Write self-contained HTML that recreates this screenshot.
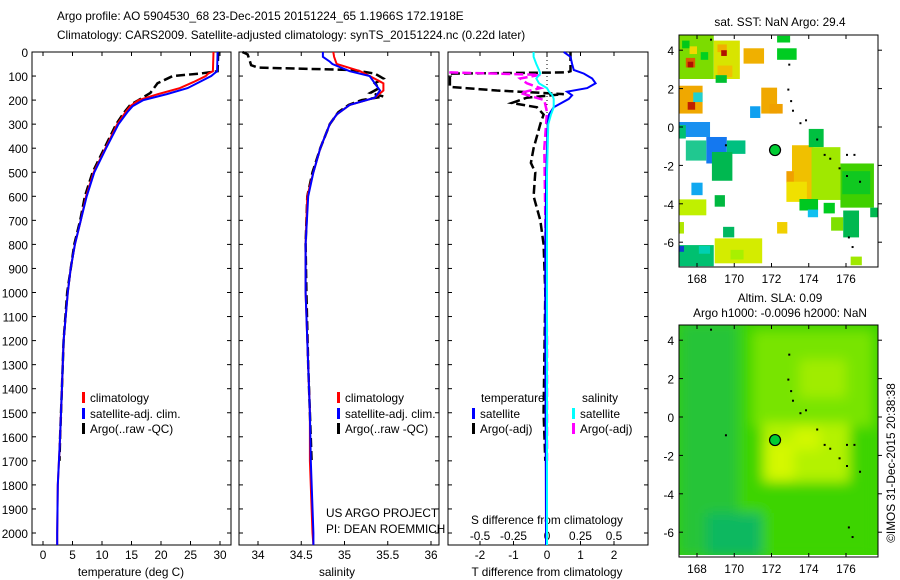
<!DOCTYPE html>
<html><head><meta charset="utf-8">
<style>
html,body{margin:0;padding:0;background:#fff;}
svg{display:block;font-family:"Liberation Sans",sans-serif;}
text{font-size:11.8px;fill:#000;}
</style></head>
<body>
<svg id="fig" width="900" height="580" viewBox="0 0 900 580" xmlns="http://www.w3.org/2000/svg">
<defs>
<filter id="blur" x="-20%" y="-20%" width="140%" height="140%"><feGaussianBlur stdDeviation="6"/></filter>
<clipPath id="m1clip"><rect x="679" y="35" width="199" height="232"/></clipPath>
<clipPath id="m2clip"><rect x="679" y="325" width="199" height="230"/></clipPath>
</defs>
<text x="57" y="20">Argo profile: AO 5904530_68 23-Dec-2015 20151224_65 1.1966S 172.1918E</text>
<text x="57" y="39">Climatology: CARS2009. Satellite-adjusted climatology: synTS_20151224.nc (0.22d later)</text>
<g id="g"></g>
</svg>
<script>
// ---- depth-profile data ----
const tDepth = [0,80,90,100,125,150,175,200,225,250,300,400,500,600,700,800,900,1000,1200,1400,1600,1800,2000,2050];
const tClim  = [28.9,28.8,28,27.6,25.5,23.2,19.5,16.2,14.8,14,12.6,10.6,8.6,7.3,6.4,5.4,4.7,4.2,3.5,3.2,2.9,2.5,2.4,2.4];
const tSat   = [29.6,29.5,29,28.5,26.5,24.5,21,17,15.2,14.3,12.8,10.7,8.7,7.4,6.4,5.4,4.7,4.2,3.5,3.2,2.9,2.5,2.4,2.4];
const tArgoDepth = [0,80,90,100,130,170,200,220,250,300,400,500,600,700,800,1000,1200,1400,1600,1700];
const tArgo  = [29.7,29.6,26.6,22,19.4,18.2,16.2,14.8,13.8,12.4,10.4,8.4,7.1,6.3,5.3,4.1,3.5,3.2,2.9,2.8];
const sDepth = [0,20,40,50,80,100,130,160,190,220,260,300,400,500,600,800,1000,1200,1500,1700,2000,2050];
const sClim  = [34.87,34.88,34.9,34.91,35.18,35.29,35.45,35.45,35.35,35.06,34.91,34.83,34.72,34.64,34.57,34.55,34.55,34.57,34.6,34.6,34.63,34.64];
const sSat   = [34.75,34.75,34.83,34.86,35.06,35.29,35.35,35.41,35.35,35.06,34.91,34.83,34.72,34.64,34.58,34.55,34.55,34.57,34.6,34.61,34.64,34.64];
const sArgoDepth = [0,10,30,55,65,75,90,110,130,150,170,185,200,220,250,300,400,500,600,800,1000,1300,1500,1700];
const sArgo  = [33.82,33.88,33.9,33.92,34.0,35.1,35.35,35.45,35.35,35.4,35.3,35.45,35.2,35.05,34.93,34.83,34.72,34.63,34.57,34.55,34.56,34.58,34.6,34.62];
// differences
const dDepth = [0,20,50,75,90,110,130,150,165,180,195,230,260,300,500,800,1200,1600,2000,2050];
const dTSat  = [0.5,0.7,0.75,0.8,1.1,1.35,1.45,1.2,0.6,0.75,0.65,0.2,0.06,0.02,-0.02,-0.05,-0.05,-0.04,-0.03,-0.03];
const dSSat  = [-0.1,-0.1,-0.08,-0.06,-0.05,-0.08,-0.06,0.0,0.015,0.04,0.05,0.05,0.03,0.01,0.0,0.0,0.0,0.0,0.0,0.0];
const dTArgoDepth = [0,80,85,90,145,160,175,190,212,230,260,300,400,461,500,600,700,800,1000,1500,1700];
const dTArgo = [0.7,0.7,0.6,-2.9,-2.9,-1.5,0.5,-0.6,-1.05,-0.3,-0.1,-0.2,-0.4,-0.48,-0.35,-0.4,-0.2,-0.1,-0.05,-0.1,-0.05];
const dSArgoDepth = [80,85,95,110,130,150,170,200,250,400,800,1200,1700];
const dSArgo = [-0.72,-0.72,-0.05,-0.2,-0.15,-0.05,-0.2,-0.02,0.0,-0.02,-0.01,0.0,0.0];
const tTicks = [0,5,10,15,20,25,30];
const sTicks = [34,34.5,35,35.5,36];
const dTTicks = [-2,-1,0,1,2];
const dSTicks = [-0.5,-0.25,0,0.25,0.5];
const depthTicks = [0,100,200,300,400,500,600,700,800,900,1000,1100,1200,1300,1400,1500,1600,1700,1800,1900,2000];
// ---- map data: [lon0, lat0, lon1, lat1, colour]
const sstBlocks = [
[167.05,4.8,168.9,2.5,'#7cdc00'],[167.2,4.5,167.6,4.1,'#00c818'],[167.6,4.2,168.0,3.8,'#f0d800'],[167.4,3.6,167.9,3.1,'#d86000'],[167.5,3.4,167.8,3.1,'#b01000'],
[168.2,3.9,168.6,3.5,'#00d020'],[168.9,4.5,170.3,2.5,'#d8e400'],[169.1,4.3,169.6,3.9,'#f0b000'],[169.3,4.0,169.6,3.7,'#b01000'],[169.1,3.2,169.9,2.6,'#f0c000'],[169.0,2.7,169.6,2.3,'#00c030'],
[167.05,2.15,168.3,0.7,'#f0a800'],[167.5,1.3,167.9,0.9,'#c02000'],[167.8,1.8,168.3,1.3,'#20d0d0'],
[170.5,4.1,171.6,3.3,'#f0b000'],[172.3,4.1,173.35,3.5,'#00cc22'],[172.3,4.75,173.0,4.4,'#00cc22'],
[171.45,2.05,172.3,0.7,'#f0a800'],[171.9,1.2,172.6,0.7,'#f0a000'],[170.85,1.08,171.4,0.47,'#10a0f0'],
[167.05,0.26,168.7,-0.52,'#1890f0'],[167.05,0.1,167.4,-0.6,'#00c070'],[168.5,-0.52,169.6,-1.9,'#1478f0'],[169.6,-0.7,170.6,-1.4,'#00c080'],
[167.4,-0.7,168.5,-1.75,'#20c890'],[168.8,-1.3,169.9,-2.8,'#00b850'],[167.7,-2.9,168.3,-3.55,'#10a8f0'],
[167.05,-3.77,168.5,-4.6,'#c0f000'],[168.95,-3.55,169.5,-4.15,'#00b840'],[169.4,-5.2,170.0,-5.75,'#00b860'],[167.05,-4.95,167.3,-5.55,'#b0e800'],
[172.3,-4.95,172.85,-5.55,'#f0d000'],[168.95,-5.8,171.5,-7.1,'#d4ec00'],[169.8,-6.4,170.5,-6.9,'#a8f000'],[167.05,-6.15,168.9,-7.25,'#00c070'],[167.05,-6.2,167.3,-6.5,'#1040d0'],[168.1,-6.2,168.7,-6.6,'#00d0b0'],
[173.1,-0.95,174.25,-3.8,'#f0c000'],[172.8,-2.3,173.2,-2.9,'#f0a000'],[172.8,-2.85,173.9,-3.9,'#f0e000'],[174.0,-0.1,174.8,-1.05,'#00c040'],
[174.15,-1.05,175.7,-3.8,'#a0e800'],[175.7,-1.9,177.5,-4.2,'#40d000'],[175.8,-2.3,177.3,-3.5,'#10c820'],
[173.5,-3.75,174.5,-4.35,'#00c820'],[173.95,-4.3,174.5,-4.7,'#10c0f0'],[174.8,-3.95,175.4,-4.5,'#00cc20'],[175.2,-4.7,175.85,-5.4,'#7ee000'],
[175.85,-4.35,176.7,-5.75,'#00b850'],[177.3,-4.2,177.7,-4.7,'#00b850'],[176.25,-6.75,176.85,-7.2,'#a0e800']];
const slaBlobs = [
[167.0,5.0,177.5,-7.3,'#3cd400'],[167.0,5.0,170.2,-7.3,'#28c438'],[168.5,-5.0,171.5,-7.3,'#10b860'],
[171.0,4.5,177.5,-0.5,'#78e400'],[171.5,-0.3,176.2,-3.4,'#b4f200'],[171.8,-1.3,173.2,-3.3,'#d4f800'],[173.2,-0.6,174.6,-1.7,'#d2f800'],[173.5,3.0,176.0,1.0,'#a0ec00']];
const argoLon = [172.19];
const argoLat = [-1.2];
const mapLonTicks = [168,170,172,174,176];
const mapLatTicks = [4,2,0,-2,-4,-6];
const islands = [[172.9,3.3],[172.85,2.0],[173.0,1.4],[173.1,0.9],[173.5,0.25],[173.8,0.4],[174.4,-0.6],[174.8,-1.4],[175.1,-1.6],[175.6,-2.1],[176.0,-1.4],[176.4,-1.4],[176.0,-2.5],[176.7,-2.8],[176.1,-5.7],[176.3,-6.2],[169.5,-0.9],[168.7,4.6]];

const NS='http://www.w3.org/2000/svg';
const G=document.getElementById('g');
function el(tag,attrs,parent){const e=document.createElementNS(NS,tag);for(const k in attrs)e.setAttribute(k,attrs[k]);(parent||G).appendChild(e);return e;}
function txt(x,y,s,anchor,parent){const t=el('text',{x:x,y:y,'text-anchor':anchor||'start'},parent);t.textContent=s;return t;}
const yD=d=>52+d*0.2405;
function scale(v0,p0,v1,p1){return v=>p0+(v-v0)*(p1-p0)/(v1-v0);}
const xT=scale(0,43,30,220), xS=scale(34,258,36,431), xDT=scale(-2,480,2,614), xDS=scale(-0.5,480,0.5,614);

function line(xs,ds,xf,col,dash,name,w){
  const pts=xs.map((v,i)=>xf(v).toFixed(1)+','+yD(ds[i]).toFixed(1)).join(' ');
  const p=el('polyline',{points:pts,fill:'none',stroke:col,'stroke-width':w||2,'stroke-dasharray':dash||'none'});
  
  
}
function frame(x0,x1,name){
  const r=el('rect',{x:x0,y:52,width:x1-x0,height:493,fill:'none',stroke:'#000','stroke-width':1});
  
  
  depthTicks.forEach(d=>{el('line',{x1:x0,x2:x0+4,y1:yD(d),y2:yD(d),stroke:'#000'});el('line',{x1:x1,x2:x1-4,y1:yD(d),y2:yD(d),stroke:'#000'});});
}
function xticks(ticks,f,y,name){
  ticks.forEach(v=>{const x=f(v);el('line',{x1:x,x2:x,y1:545,y2:541,stroke:'#000'});el('line',{x1:x,x2:x,y1:52,y2:56,stroke:'#000'});
    const t=txt(x,y,String(v),'middle');});
}
function legend(x,y,col,label,name){
  el('rect',{x:x,y:y-10,width:3,height:11,fill:col});
  const t=txt(x+8,y,label);
}
// panel 1
frame(32,231,'temperature-panel-frame');
depthTicks.forEach(d=>{const t=txt(28,yD(d)+5,String(d),'end');});
xticks(tTicks,xT,559,'temperature-tick-label');
line(tArgo,tArgoDepth,xT,'#000','9,4','temperature-argo-line',2.5);
line(tClim,tDepth,xT,'#f00',null,'temperature-climatology-line',2);
line(tSat,tDepth,xT,'#00f',null,'temperature-satellite-line',2);
txt(131,576,'temperature (deg C)','middle');
legend(82,402,'#f00','climatology','legend-climatology');
legend(82,418,'#00f','satellite-adj. clim.','legend-satellite-adj');
legend(82,433,'#000','Argo(..raw -QC)','legend-argo');
// panel 2
frame(239,439,'salinity-panel-frame');
xticks(sTicks,xS,559,'salinity-tick-label');
line(sArgo,sArgoDepth,xS,'#000','9,4','salinity-argo-line',2.5);
line(sClim,sDepth,xS,'#f00',null,'salinity-climatology-line',2);
line(sSat,sDepth,xS,'#00f',null,'salinity-satellite-line',2);
txt(337,576,'salinity','middle');
legend(337,402,'#f00','climatology','legend-s-climatology');
legend(337,418,'#00f','satellite-adj. clim.','legend-s-satellite-adj');
legend(337,433,'#000','Argo(..raw -QC)','legend-s-argo');
txt(326,517,'US ARGO PROJECT');
txt(326,533,'PI: DEAN ROEMMICH');
// panel 3
frame(448,648,'difference-panel-frame');
el('line',{x1:xDT(0),x2:xDT(0),y1:52,y2:150,stroke:'#000','stroke-dasharray':'1,3'});
xticks(dTTicks,xDT,559,'t-diff-tick-label');
dSTicks.forEach(v=>{const t=txt(xDS(v),540,String(v),'middle');});
txt(547,524,'S difference from climatology','middle');
txt(547,576,'T difference from climatology','middle');
line(dTArgo,dTArgoDepth,xDT,'#000','9,4','t-diff-argo-line',2.5);
line(dSArgo,dSArgoDepth,xDS,'#f0f','9,4','s-diff-argo-line',2.5);
line(dTSat,dDepth,xDT,'#00f',null,'t-diff-satellite-line',2);
line(dSSat,dDepth,xDS,'#0ff',null,'s-diff-satellite-line',2);
txt(481,402,'temperature');
txt(582,402,'salinity');
legend(472,418,'#00f','satellite','legend-t-satellite');
legend(472,433,'#000','Argo(-adj)','legend-t-argo');
legend(572,418,'#0ff','satellite','legend-s-satellite');
legend(572,433,'#f0f','Argo(-adj)','legend-s-argo');

// maps
function drawMap(top,bottom,lat0y,name,blocks,blur,clip){
  const xL=scale(168,697,176,846), yL=scale(0,lat0y,4,lat0y-76.8);
  const g=el('g',{'clip-path':'url(#'+clip+')'});
  
  
  const inner=blur?el('g',{filter:'url(#blur)'},g):g;
  blocks.forEach(b=>{
    const x0=xL(b[0]),x1=xL(b[2]),y0=yL(b[1]),y1=yL(b[3]);
    const r=el('rect',{x:x0,y:y0,width:x1-x0,height:y1-y0,fill:b[4]},inner);
    
    
  });
  islands.forEach(p=>{el('rect',{x:xL(p[0]),y:yL(p[1]),width:2,height:2,fill:'#000'},g);});
  argoLon.forEach((lo,i)=>{const c=el('circle',{cx:xL(lo),cy:yL(argoLat[i]),r:5.5,fill:'#00cc33',stroke:'#000','stroke-width':1.2},g);
    });
  const fr=el('rect',{x:679,y:top,width:199,height:bottom-top,fill:'none',stroke:'#000'});
  
  
  mapLonTicks.forEach(v=>{const x=xL(v);el('line',{x1:x,x2:x,y1:top,y2:top+4,stroke:'#000'});el('line',{x1:x,x2:x,y1:bottom,y2:bottom-4,stroke:'#000'});
    const t=txt(x,bottom+16,String(v),'middle');});
  mapLatTicks.forEach(v=>{const y=yL(v);el('line',{x1:679,x2:683,y1:y,y2:y,stroke:'#000'});el('line',{x1:878,x2:882,y1:y,y2:y,stroke:'#000'});
    const t=txt(674,y+5,String(v),'end');});
}
el('rect',{x:679,y:35,width:199,height:232,fill:'#fff'});
drawMap(35,267,127,'sst-map',sstBlocks,false,'m1clip');
el('rect',{x:679,y:325,width:199,height:230,fill:'#3cd400'});
drawMap(325,557,417,'sla-map',slaBlobs,true,'m2clip');
txt(780,26,'sat. SST: NaN Argo: 29.4','middle');
txt(780,302,'Altim. SLA: 0.09','middle');
txt(780,317,'Argo h1000: -0.0096 h2000: NaN','middle');
const stamp=txt(0,0,'©IMOS 31-Dec-2015 20:38:38','middle');
stamp.setAttribute('transform','translate(895,463) rotate(-90)');


</script>
</body></html>
